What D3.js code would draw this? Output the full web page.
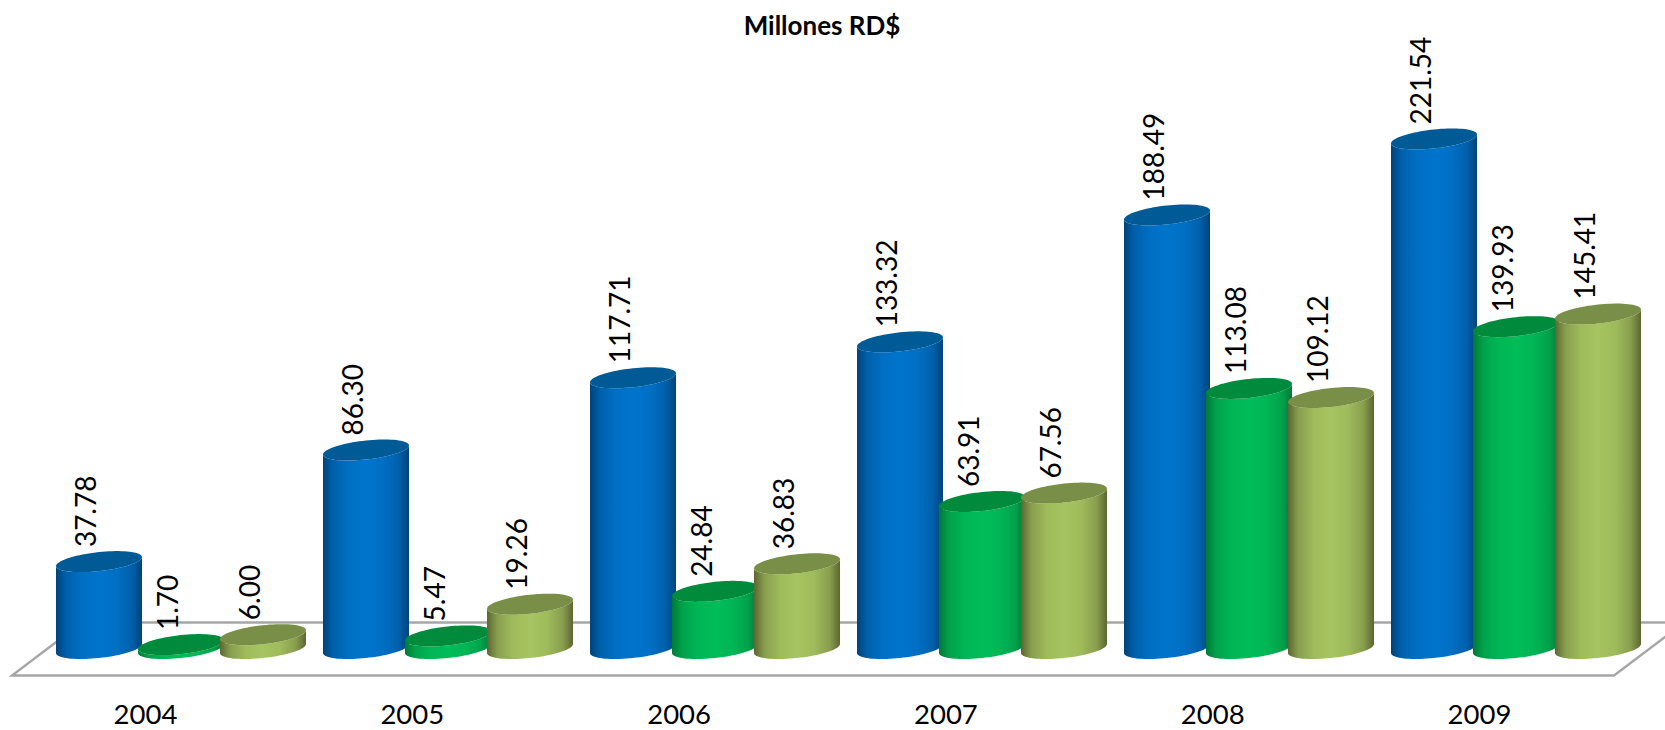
<!DOCTYPE html>
<html><head><meta charset="utf-8">
<script src="https://cdn.jsdelivr.net/npm/d3@7"></script>
<style>html,body{margin:0;padding:0;background:#fff}svg{display:block}text{font-family:Lato,"Open Sans",sans-serif;fill:#000}</style>
</head><body><svg id="c" width="1665" height="730"></svg>
<script>
const years = ["2004","2005","2006","2007","2008","2009"];
const seriesA = [37.78,86.30,117.71,133.32,188.49,221.54];
const seriesB = [1.70,5.47,24.84,63.91,113.08,139.93];
const seriesC = [6.00,19.26,36.83,67.56,109.12,145.41];
const seriesColors = [
 {edge:"#00437a",mid:"#0074cc",cap:"#005a96"},
 {edge:"#007a38",mid:"#00bd58",cap:"#008a3c"},
 {edge:"#5c6632",mid:"#a6c460",cap:"#798f47"}
];
const title = "Millones RD$";
const svg=d3.select("#c");
const x=d3.scalePoint().domain(years).range([56,1391]);
const xLabels=d3.scalePoint().domain(years).range([145,1479]);
const y=d3.scaleLinear().domain([0,100]).range([648.5,418.5]);
const barW=86, step=82, ry=9.5, shear=4.5;
const defs=svg.append("defs");
seriesColors.forEach((c,i)=>{
  const g=defs.append("linearGradient").attr("id","g"+i);
  const mix=d3.interpolateRgb(c.edge,c.mid);
  [[0,c.edge],[.12,mix(.6)],[.3,mix(.9)],[.5,c.mid],[.7,mix(.9)],[.88,mix(.6)],[1,c.edge]]
   .forEach(([o,k])=>g.append("stop").attr("offset",o).attr("stop-color",k));
});
const floorPts=[[12,675.5],[1614,675.5],[1684,622.5],[82,622.5]];
svg.append("path").attr("d",d3.line()(floorPts)+"Z").attr("fill","#fff").attr("stroke","#a6a6a6").attr("stroke-width",2.4);
const ang=d3.range(0,Math.PI+1e-6,Math.PI/40);
const ept=(cx,cy,a)=>[cx+barW/2*Math.cos(a),cy+ry*Math.sin(a)-shear*Math.cos(a)];
const eline=d3.line();
const series=[seriesA,seriesB,seriesC];
years.forEach((yr,k)=>{
  series.forEach((vals,i)=>{
    const cx=x(yr)+i*step+barW/2, top=y(vals[k]), base=y(0);
    const g=svg.append("g");
    const lower=ang.map(a=>ept(cx,base,a));
    const upper=ang.map(a=>ept(cx,top,Math.PI-a));
    g.append("path").attr("d",eline(lower.concat(upper))+"Z").attr("fill",`url(#g${i})`);
    const cap=ang.map(a=>ept(cx,top,a)).concat(ang.map(a=>ept(cx,top,a+Math.PI)));
    g.append("path").attr("d",eline(cap)+"Z").attr("fill",seriesColors[i].cap);
    g.append("text").attr("transform",`translate(${cx-13},${top-14.5}) rotate(-90)`)
      .attr("dy","0.35em").attr("font-size",28).text(vals[k].toFixed(2));
  });
});
const ax=svg.append("g").attr("transform","translate(0,705)").call(d3.axisBottom(xLabels).tickSize(0).tickPadding(0));
ax.select(".domain").remove();
ax.selectAll("text").attr("font-size",27.5).attr("font-family",null).attr("dy",0).attr("y",19);
svg.append("text").attr("x",822).attr("y",26).attr("dy","0.35em").attr("text-anchor","middle").attr("font-weight",700).attr("font-size",26).text(title);
</script></body></html>
